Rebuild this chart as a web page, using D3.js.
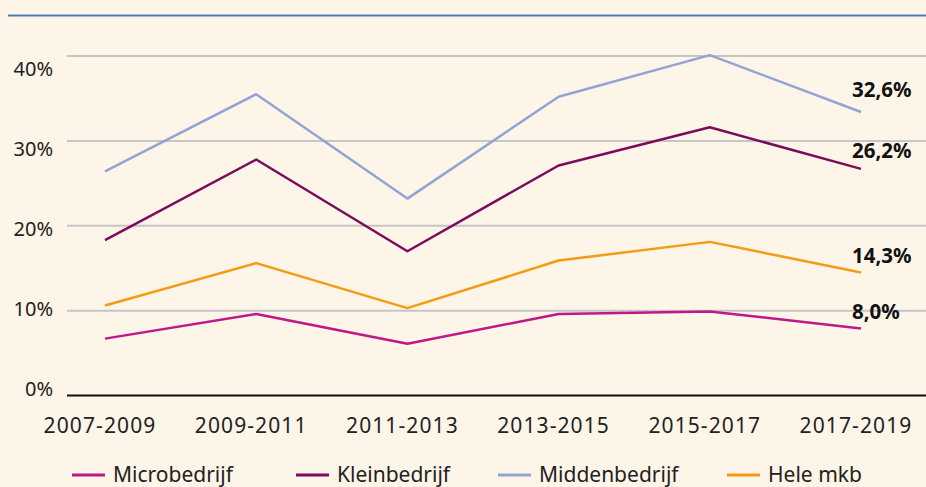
<!DOCTYPE html>
<html>
<head>
<meta charset="utf-8">
<script src="https://cdn.jsdelivr.net/npm/d3@7"></script>
<style>
  body { margin: 0; background: #fdf5e8; }
  svg { display: block; font-family: "Noto Sans", sans-serif; }
</style>
</head>
<body>
<div id="chart"></div>
<script>
const periods = ["2007-2009", "2009-2011", "2011-2013", "2013-2015", "2015-2017", "2017-2019"];
const micro = [6.7, 9.6, 6.1, 9.6, 9.9, 7.9];
const klein = [18.3, 27.8, 17.0, 27.1, 31.6, 26.7];
const midden = [26.4, 35.5, 23.2, 35.2, 40.1, 33.4];
const heleMkb = [10.6, 15.6, 10.3, 15.9, 18.1, 14.5];
const endLabels = ["8,0%", "26,2%", "32,6%", "14,3%"];
const yTicks = [0, 10, 20, 30, 40];

const series = [
    {name: "Microbedrijf", values: micro, color: "#c0178a", label: endLabels[0], labelY: 319},
    {name: "Kleinbedrijf", values: klein, color: "#7b0c5c", label: endLabels[1], labelY: 158},
    {name: "Middenbedrijf", values: midden, color: "#93a3d6", label: endLabels[2], labelY: 97},
    {name: "Hele mkb", values: heleMkb, color: "#f39c12", label: endLabels[3], labelY: 263}
];

const width = 926, height = 487;

const svg = d3.select("#chart")
    .append("svg")
        .attr("width", width)
        .attr("height", height);

svg.append("rect")
    .attr("width", width)
    .attr("height", height)
    .attr("fill", "#fdf5e8");

// blue rule at the top
svg.append("line")
    .attr("x1", 8).attr("x2", width)
    .attr("y1", 15.5).attr("y2", 15.5)
    .attr("stroke", "#4a7db5")
    .attr("stroke-width", 2);

const x = d3.scalePoint()
    .domain(periods)
    .range([105, 861]);

const y = d3.scaleLinear()
    .domain([0, 40])
    .range([395.5, 56]);

// tick labels are spaced a bit tighter than the gridlines in the original
const yLabel = d3.scaleLinear()
    .domain([0, 40])
    .range([389, 69]);

svg.append("g")
    .selectAll("line")
    .data(yTicks)
    .enter()
    .append("line")
        .attr("x1", 67)
        .attr("x2", width)
        .attr("y1", d => y(d))
        .attr("y2", d => y(d))
        .attr("stroke", d => d === 0 ? "#111" : "#c6c6c6")
        .attr("stroke-width", 2);

svg.append("g")
    .selectAll("text")
    .data(yTicks)
    .enter()
    .append("text")
        .attr("x", 53)
        .attr("y", d => yLabel(d))
        .attr("dy", "0.35em")
        .attr("text-anchor", "end")
        .attr("font-size", 20)
        .attr("fill", "#222")
        .text(d => d + "%");

svg.append("g")
    .selectAll("text")
    .data(periods)
    .enter()
    .append("text")
        .attr("x", d => x(d) - 5)
        .attr("y", 433)
        .attr("text-anchor", "middle")
        .attr("font-size", 21)
        .attr("letter-spacing", 1.1)
        .attr("fill", "#222")
        .text(d => d);

const line = d3.line()
    .x((d, i) => x(periods[i]))
    .y(d => y(d));

svg.append("g")
    .selectAll("path")
    .data(series)
    .enter()
    .append("path")
        .attr("d", d => line(d.values))
        .attr("fill", "none")
        .attr("stroke", d => d.color)
        .attr("stroke-width", 2.5)
        .attr("stroke-linejoin", "round");

svg.append("g")
    .selectAll("text")
    .data(series)
    .enter()
    .append("text")
        .attr("x", 852)
        .attr("y", d => d.labelY)
        .attr("font-size", 20.5)
        .attr("font-weight", "bold")
        .attr("fill", "#111")
        .text(d => d.label);

// legend
const legendX = [72, 296, 498, 727];
const legend = svg.append("g")
    .selectAll("g")
    .data(series)
    .enter()
    .append("g")
        .attr("transform", (d, i) => `translate(${legendX[i]}, 475)`);

legend.append("line")
    .attr("x1", 0).attr("x2", 33)
    .attr("y1", 0).attr("y2", 0)
    .attr("stroke", d => d.color)
    .attr("stroke-width", 3);

legend.append("text")
    .attr("x", 41)
    .attr("y", 7)
    .attr("font-size", 21)
    .attr("fill", "#222")
    .text(d => d.name);
</script>
</body>
</html>
